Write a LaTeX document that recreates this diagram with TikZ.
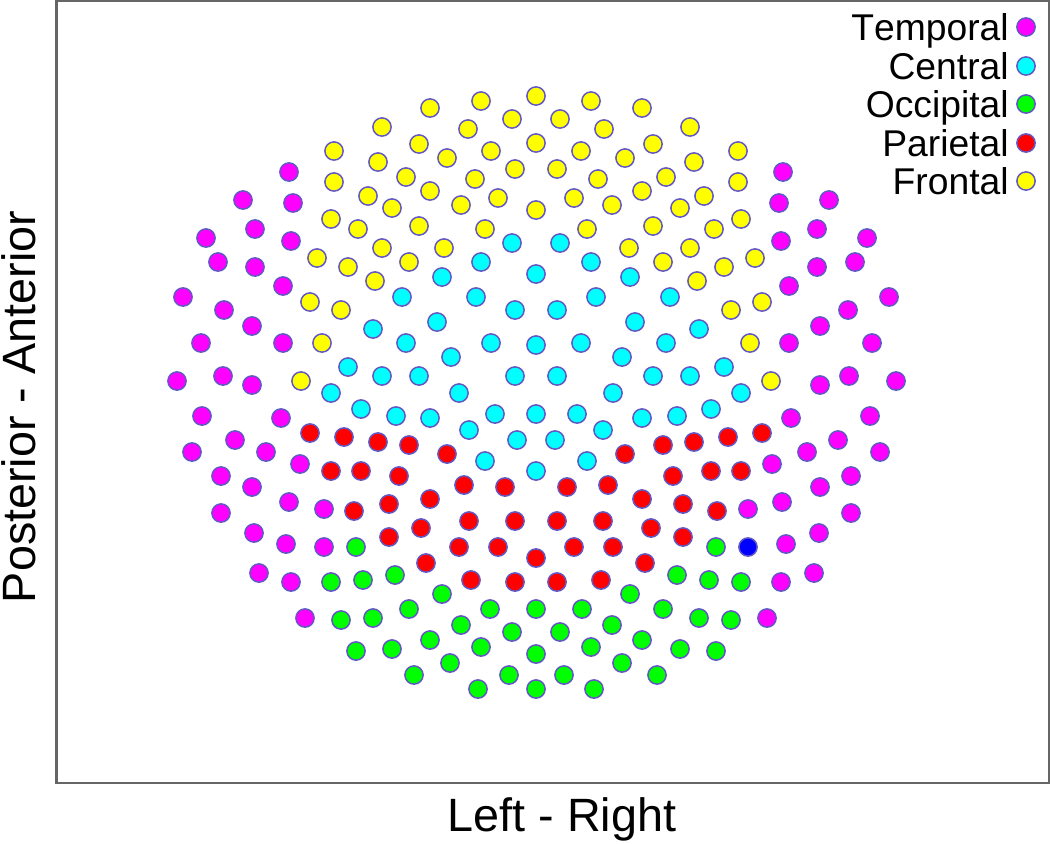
\documentclass[tikz,border=0pt]{standalone}
\usepackage{fontspec}
\setmainfont[Kerning=Off]{Liberation Sans}
\usepackage{tikz}
\definecolor{ptedge}{HTML}{6258C4}
\definecolor{framegray}{HTML}{666666}
\definecolor{frontalcol}{RGB}{255,255,0}
\definecolor{centralcol}{RGB}{0,255,255}
\definecolor{temporalcol}{RGB}{255,0,255}
\definecolor{parietalcol}{RGB}{255,0,0}
\definecolor{occipitalcol}{RGB}{0,255,0}
\definecolor{markedcol}{RGB}{0,0,255}
\tikzset{pt/.style={circle, inner sep=0pt, minimum size=.365cm, line width=.03cm, draw=ptedge, fill=#1},
	legendtext/.style={anchor=base east, inner sep=0pt, font=\fontsize{21.2}{24}\selectfont},
	axislabel/.style={inner sep=0pt, font=\fontsize{26.6}{30}\selectfont}}

\begin{document}
\begin{tikzpicture}[x=.02cm,y=-.02cm]
		\useasboundingbox (0,0) rectangle (1050,843);
		\draw[framegray,line width=.05cm] (56.5,1) rectangle (1049,783);
		\node[axislabel,anchor=base] (xlabel) at (562,831) {Left - Right};
		\node[axislabel,anchor=base,rotate=90] (ylabel) at (35,407) {Posterior - Anterior};
		% frontal
		\foreach \x/\y [count=\i] in {430/108,481/101,536/96,382/127,468/129,512/119,334/151,419/144,447/158,491/151,536/143,378/162,406/177,475/179,515/169,334/182,368/196,430/191,498/198,392/208,461/205,536/210,331/219,358/229,419/226,485/229,382/248,444/248,317/258,348/267,409/262,375/281,310/302,341/310,322/343,301/381,591/101,642/108,560/119,604/129,690/127,581/151,625/158,653/144,738/151,694/162,557/169,598/179,666/177,738/182,642/191,704/196,574/198,612/205,680/208,587/229,653/226,714/229,741/219,629/248,690/248,663/262,755/258,724/267,697/281,762/302,731/310,750/343,771/381}
			\node[pt=frontalcol] (f\i) at (\x,\y) {};
		% central
		\foreach \x/\y [count=\i] in {512/243,481/262,536/274,442/277,402/297,476/297,515/310,437/322,373/329,406/343,491/343,536/345,451/357,348/367,382/376,419/376,515/376,331/393,459/393,560/243,591/262,630/277,670/297,596/297,557/310,635/322,699/329,666/343,581/343,622/357,557/376,653/376,690/376,724/367,613/393,741/393,361/409,396/416,430/418,495/414,536/414,469/430,517/440,485/461,536/471,577/414,642/418,677/416,711/409,603/430,555/440,587/461}
			\node[pt=centralcol] (c\i) at (\x,\y) {};
		% temporal
		\foreach \x/\y [count=\i] in {289/172,243/200,293/203,255/229,206/238,291/241,218/262,255/267,283/286,183/297,224/310,252/326,201/343,283/343,177/381,223/376,252/385,783/172,829/200,779/203,817/229,867/238,781/241,855/262,817/267,789/286,889/297,848/310,820/326,872/343,789/343,849/376,896/381,820/385,202/416,281/418,235/440,192/452,266/452,300/464,221/476,252/487,289/502,324/509,221/513,254/533,286/544,324/547,259/573,291/582,305/618,791/418,870/416,838/440,880/452,807/452,772/464,851/476,820/487,782/502,748/509,851/513,819/533,786/544,781/582,814/573,767/618}
			\node[pt=temporalcol] (t\i) at (\x,\y) {};
		% parietal
		\foreach \x/\y [count=\i] in {310/433,344/437,378/442,409/445,447/454,331/471,361/471,399/476,464/485,505/487,430/499,389/504,354/511,469/521,515/521,421/528,389/537,459/547,498/547,536/558,426/563,471/580,515/582,762/433,728/437,694/442,663/445,625/454,741/471,711/471,673/476,608/485,567/487,642/499,683/504,717/511,603/521,557/521,651/528,683/537,613/547,574/547,645/563,601/580,557/582}
			\node[pt=parietalcol] (p\i) at (\x,\y) {};
		% occipital
		\foreach \x/\y [count=\i] in {356/547,395/575,363/580,331/582,442/594,409/609,373/618,341/620,490/609,536/609,461/625,512/632,430/640,392/649,356/651,481/647,536/654,450/663,414/675,509/675,478/689,536/689,716/547,677/575,709/580,741/582,630/594,663/609,699/618,731/620,582/609,612/625,560/632,642/640,680/649,716/651,591/647,622/663,657/675,564/675,594/689}
			\node[pt=occipitalcol] (o\i) at (\x,\y) {};
		\node[pt=markedcol] (marked) at (748,547) {};
		% legend
		\foreach \name/\col/\y/\base in {Temporal/temporalcol/27/40,Central/centralcol/66/79,Occipital/occipitalcol/104/117,Parietal/parietalcol/143/156,Frontal/frontalcol/181/194} {
			\node[pt=\col] (key\name) at (1026,\y) {};
			\node[legendtext] (label\name) at (1009,\base) {\name};
		}
		\end{tikzpicture}
\end{document}
